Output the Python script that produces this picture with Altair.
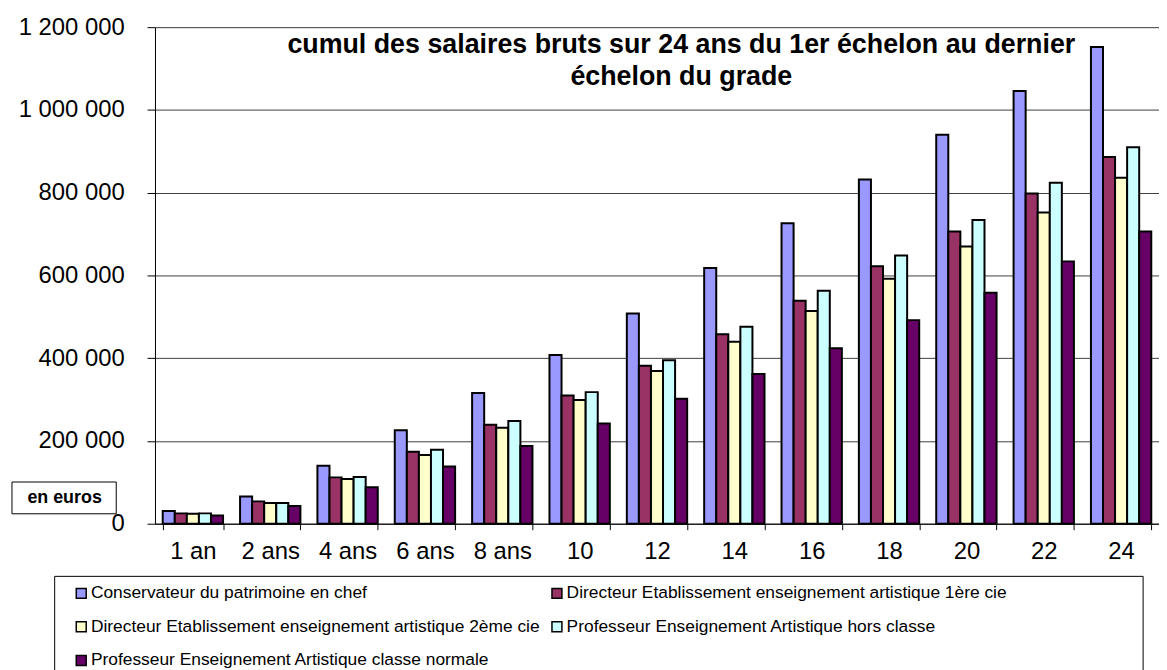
import altair as alt
import pandas as pd

categories = ["1 an", "2 ans", "4 ans", "6 ans", "8 ans", "10", "12", "14", "16", "18", "20", "22", "24"]

series_names = [
    "Conservateur du patrimoine en chef",
    "Directeur Etablissement enseignement artistique 1ère cie",
    "Directeur Etablissement enseignement artistique 2ème cie",
    "Professeur Enseignement Artistique hors classe",
    "Professeur Enseignement Artistique classe normale",
]
series_colors = ["#9999FF", "#993366", "#FFFFCC", "#CCFFFF", "#660066"]

conservateur = [31000, 66000, 140000, 226000, 316000, 408000, 508000, 618000, 726000, 832000, 940000, 1046000, 1152000]
directeur_1 = [25000, 54000, 112000, 174000, 239000, 310000, 382000, 458000, 539000, 622000, 706000, 798000, 886000]
directeur_2 = [24000, 50000, 108000, 166000, 232000, 299000, 369000, 440000, 514000, 592000, 670000, 752000, 836000]
prof_hors_classe = [25000, 50000, 113000, 179000, 248000, 318000, 395000, 476000, 563000, 648000, 734000, 824000, 910000]
prof_classe_normale = [20000, 43000, 88000, 138000, 188000, 242000, 302000, 362000, 424000, 492000, 558000, 634000, 706000]

y_ticks = [0, 200000, 400000, 600000, 800000, 1000000, 1200000]
title_lines = [
    "cumul des salaires bruts sur 24 ans du 1er échelon au dernier",
    "échelon du grade",
]
unit_label = "en euros"

all_series = [conservateur, directeur_1, directeur_2, prof_hors_classe, prof_classe_normale]
rows = []
for name, vals in zip(series_names, all_series):
    for c, v in zip(categories, vals):
        rows.append({"categorie": c, "serie": name, "valeur": v})
df = pd.DataFrame(rows)

FONT = "Liberation Sans"

bars = alt.Chart(df).mark_bar(stroke="black", strokeWidth=2).encode(
    x=alt.X(
        "categorie:N",
        sort=categories,
        scale=alt.Scale(paddingInner=0.22, paddingOuter=0.1),
        axis=alt.Axis(
            title=None, labelAngle=0, tickBand="extent", labelFont=FONT,
            labelFontSize=24, labelColor="black", tickColor="black", tickSize=6,
            domainColor="black", labelPadding=10, grid=False,
        ),
    ),
    xOffset=alt.XOffset("serie:N", sort=series_names, scale=alt.Scale(paddingInner=0, paddingOuter=0)),
    y=alt.Y(
        "valeur:Q",
        scale=alt.Scale(domain=[0, 1200000], nice=False),
        axis=alt.Axis(
            title=None, values=y_ticks,
            labelExpr="replace(replace(format(datum.value, ','), ',', ' '), ',', ' ')",
            labelFont=FONT, labelFontSize=24, labelColor="black",
            tickColor="black", tickSize=8, labelPadding=23,
            domainColor="black", gridColor="#404040", gridWidth=1,
        ),
    ),
    color=alt.Color(
        "serie:N",
        sort=series_names,
        scale=alt.Scale(domain=series_names, range=series_colors),
        legend=alt.Legend(
            orient="none", legendX=-83, legendY=561, columns=2, direction="horizontal",
            title=None, symbolType="square", symbolSize=100, symbolStrokeColor="black",
            symbolStrokeWidth=1.5, symbolOpacity=1, labelFont=FONT, labelFontSize=17.5,
            labelColor="black", labelLimit=0, rowPadding=15, columnPadding=8,
            padding=0, labelOffset=1, gridAlign="each",
        ),
    ),
)

one = pd.DataFrame({"k": [0]})

title_text = alt.Chart(one).mark_text(
    font=FONT, fontSize=27, fontWeight="bold", color="black",
    align="center", baseline="alphabetic", lineHeight=32,
).encode(x=alt.value(530), y=alt.value(26), text=alt.value(title_lines))

unit_box = alt.Chart(one).mark_rect(fill="white", stroke="black", strokeWidth=1).encode(
    x=alt.value(-144), x2=alt.value(-39), y=alt.value(458), y2=alt.value(490)
)
unit_text = alt.Chart(one).mark_text(
    font=FONT, fontSize=18, fontWeight="bold", color="black", align="center", baseline="middle"
).encode(x=alt.value(-91), y=alt.value(474), text=alt.value(unit_label))

legend_box = alt.Chart(one).mark_rect(fillOpacity=0, stroke="black", strokeWidth=1).encode(
    x=alt.value(-101), x2=alt.value(995), y=alt.value(553), y2=alt.value(720)
)

chart = alt.layer(bars, title_text, unit_box, unit_text, legend_box).properties(
    width=1011,
    height=500,
    autosize=alt.AutoSizeParams(type="none"),
    padding={"left": 148, "top": 17, "right": 0, "bottom": 145},
).configure_view(fill="#C0C0C0", stroke="transparent").configure(background="white")

chart.save("out.html", embed_options={"renderer": "svg", "actions": False})
